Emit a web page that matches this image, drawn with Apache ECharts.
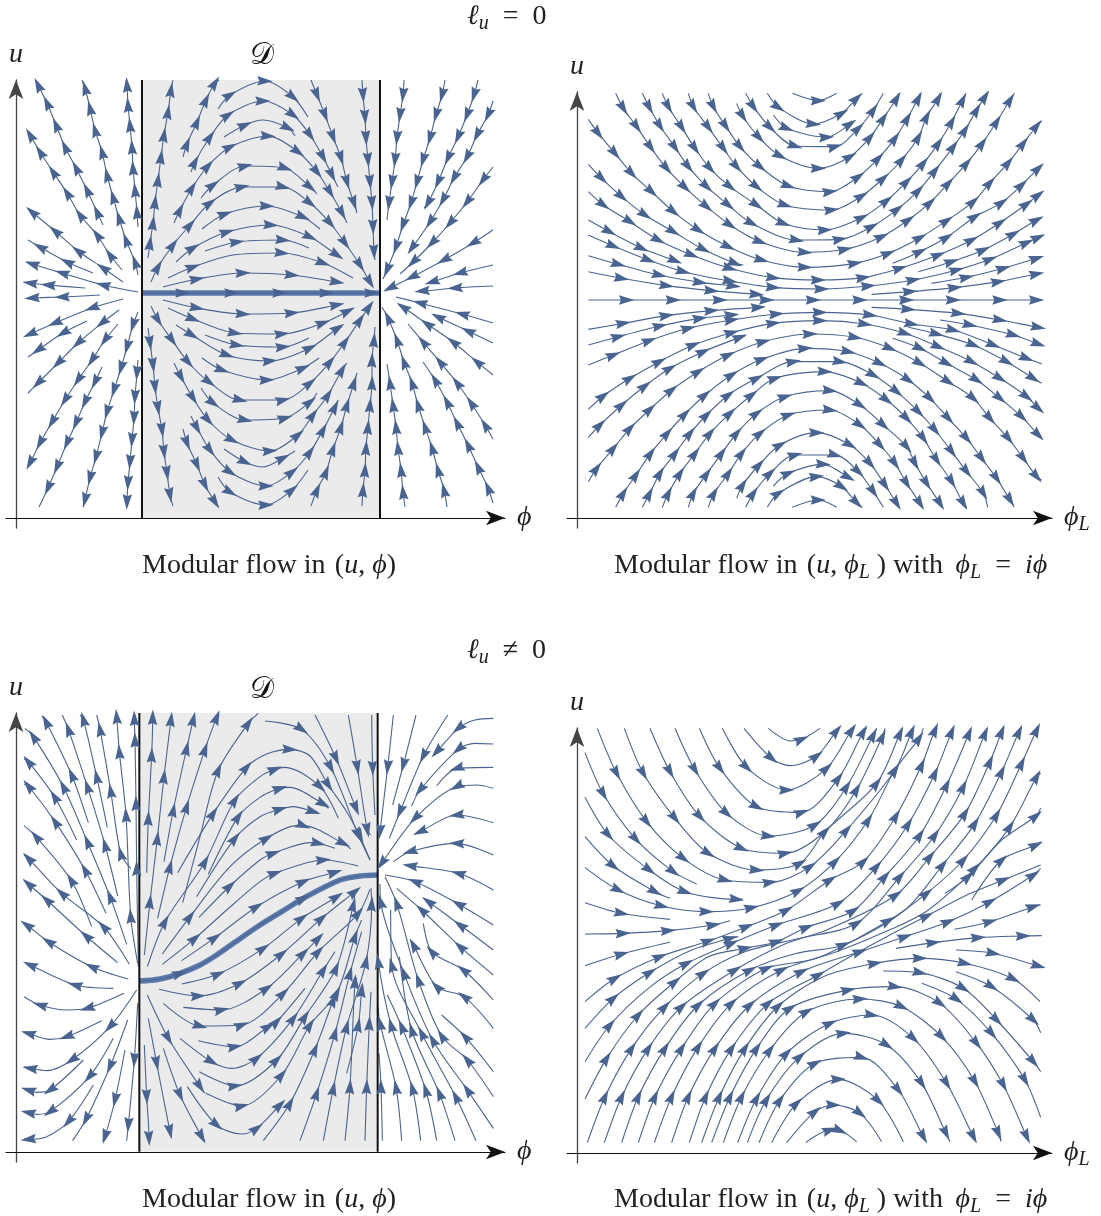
<!DOCTYPE html>
<html><head><meta charset="utf-8"><style>html,body{margin:0;padding:0;background:#fff}#c{width:1101px;height:1216px}</style>
<script src="https://cdn.jsdelivr.net/npm/echarts@6/dist/echarts.min.js"></script></head><body><div id="c"></div><script>
// Streamlines: point list in flow direction; interior points carry an arrow, third value 0 = no arrow.
const streamsA=[
[[138,275],[135,262],[126,240],[119,218],[113,197],[107,175],[102,152],[95,130],[90,108],[85,88],[82,80]],
[[138,227],[137,212],[135,190],[133,168],[132,147],[130,125],[128,105],[127,85],[126,80]],
[[103,225],[97,212],[87,190],[76,168],[65,147],[56,125],[47,103],[38,85],[36,80]],
[[122,270],[110,255],[97,235],[80,215],[67,193],[53,172],[40,152],[30,135],[28,132]],
[[123,282],[103,268],[78,251],[55,231],[32,212],[28,208]],
[[93,273],[67,262],[40,247],[28,240]],
[[138,292],[103,285],[62,273],[32,264],[28,262]],
[[85,288],[48,285],[30,283],[27,282]],
[[100,295],[62,297],[32,298],[27,299]],
[[123,299],[92,308],[55,323],[30,334],[28,335]],
[[87,321],[63,333],[38,350],[28,357]],
[[119,310],[102,323],[78,343],[58,363],[38,383],[28,393]],
[[118,324],[105,340],[92,360],[78,380],[65,400],[52,422],[40,443],[30,463],[28,466]],
[[138,312],[133,325],[127,347],[121,368],[114,390],[107,412],[102,433],[96,457],[90,478],[85,500],[83,507]],
[[102,367],[95,382],[85,402],[76,423],[67,443],[57,467],[48,488],[39,507]],
[[138,360],[137,373],[135,397],[134,418],[132,440],[130,462],[128,483],[127,502],[127,507]],
[[148,258],[150,243],[153,223],[155,202],[158,180],[161,157],[164,135],[168,112],[171,90],[173,80]],
[[183,157],[187,144],[197,122],[206,100],[215,83],[219,80]],
[[174,223],[180,210],[192,188],[208,166],[230,147],[268,136],[298,152],[317,172],[330,192],[342,213],[347,223]],
[[218,109],[230,95],[265,81],[293,97],[308,117]],
[[191,172],[195,162],[210,137],[228,115],[263,101],[293,115],[310,135],[323,157],[332,175],[338,187]],
[[224,137],[245,125],[263,120,0],[288,128],[295,136]],
[[201,198],[213,185],[245,166],[285,168],[310,187],[317,194]],
[[151,282],[158,267],[173,245],[190,225],[210,203],[242,187],[283,187],[310,203],[330,223],[345,243],[360,265],[370,282],[372,285]],
[[202,229],[225,214],[267,206],[303,217],[320,229]],
[[176,262],[193,248],[227,232],[271,225],[310,237],[337,255],[342,258]],
[[205,251],[237,242],[283,240],[309,248]],
[[168,278],[193,267],[233,255,0],[282,253],[323,263],[353,278]],
[[163,287],[197,279],[243,273],[292,275],[337,282],[341,283]],
[[311,80],[317,95],[325,115],[333,137],[341,158],[347,182],[354,203],[357,213]],
[[362,80],[363,95],[365,117],[366,138],[368,160],[370,182],[372,203],[373,227],[374,252],[375,260]],
[[148,328],[150,343],[153,365],[155,387],[158,408],[162,430],[164,452],[167,473],[170,495],[173,506]],
[[183,429],[187,443],[197,465],[205,485],[215,502],[219,507]],
[[151,306],[158,320],[172,340],[188,362],[209,382],[240,400],[283,400],[310,383],[330,362],[345,342],[360,320],[369,307],[372,303]],
[[174,363],[181,377],[193,398],[208,420],[232,440],[270,451],[298,435],[313,415],[328,395],[342,370],[347,363]],
[[191,416],[197,428],[210,450],[230,472],[266,486],[292,472],[310,452],[323,430],[335,407],[338,400]],
[[218,477],[230,492],[266,505],[292,490],[308,470]],
[[224,449],[245,462],[263,467,0],[283,458],[295,451]],
[[201,388],[213,403],[245,420],[285,418],[310,402],[317,393]],
[[202,358],[222,370],[267,380],[303,368],[319,358]],
[[176,325],[192,335],[227,355],[270,361],[310,348],[338,328],[342,327]],
[[205,335],[237,345],[283,347],[309,338]],
[[168,308],[193,319],[235,333],[282,334],[323,323],[348,311],[353,308]],
[[163,300],[197,308],[243,314],[292,313],[337,305],[341,304]],
[[311,506],[317,490],[326,472],[333,449],[341,427],[347,405],[354,383],[357,373]],
[[362,506],[363,490],[365,470],[366,448],[368,427],[370,405],[372,383],[372,360],[374,340],[375,327]],
[[404,80],[403,95],[400,115],[397,138],[395,160],[392,182],[389,203],[387,220]],
[[445,80],[442,95],[436,115],[430,138],[423,160],[417,182],[411,203],[403,225],[396,247],[387,270],[383,279]],
[[478,80],[474,95],[467,115],[458,137],[448,158],[438,182],[428,203],[424,208]],
[[493,101],[488,115],[477,135],[467,157],[454,178],[443,200],[430,222],[412,248],[410,250]],
[[493,167],[483,180],[467,202],[450,223],[432,243],[413,262],[400,274]],
[[493,230],[473,243],[444,260],[412,277],[390,288],[385,291]],
[[493,265],[460,273],[432,282],[428,283]],
[[493,286],[455,288],[422,291],[418,291]],
[[493,323],[462,314],[420,303],[396,297]],
[[493,343],[468,331],[438,317],[434,314]],
[[493,375],[477,362],[453,342],[427,324],[403,307],[399,305]],
[[493,439],[485,425],[471,403],[457,383],[440,362],[423,342],[408,324]],
[[493,503],[488,488],[478,467],[468,445],[457,423],[447,402],[435,380],[423,362]],
[[447,507],[444,490],[438,470],[432,448],[425,427],[418,405],[412,383],[404,362],[397,340],[388,318],[382,307]],
[[405,507],[403,492],[401,470],[398,448],[396,427],[393,405],[390,383],[387,364]]
];
const thickA=[[142,293],[183,293],[232,293],[280,293],[327,293],[372,293],[380,293]];
const streamsB=[
[[85,750],[200,750],[340,750],[480,750],[620,750],[760,750],[900,750],[1040,750],[1180,750],[1320,750],[1430,750],[1445,750]],
[[697,130],[775,152],[830,130]],
[[622,130],[655,172],[760,222],[845,190],[890,145],[907,130]],
[[640,195],[680,235],[800,262],[870,222],[875,212]],
[[557,130],[580,170],[630,232],[705,288],[825,290],[895,235],[940,180],[970,130]],
[[530,160],[548,198],[597,262],[660,318],[775,355],[870,320],[930,262],[970,205],[1010,145],[1015,130]],
[[445,130],[460,170],[497,228],[540,290],[600,350],[685,408],[810,425],[895,380],[955,325],[1005,265],[1042,205],[1075,145],[1080,130]],
[[385,130],[400,170],[445,232],[490,295],[530,350],[590,410],[675,465],[815,480],[905,438],[970,385],[1025,330],[1075,262],[1100,200],[1135,145],[1140,130]],
[[307,130],[325,170],[365,232],[405,295],[450,355],[510,410],[590,465],[670,520],[795,540],[905,503],[980,452],[1040,395],[1090,340],[1135,280],[1175,215],[1208,150],[1218,130]],
[[247,130],[268,172],[300,228],[345,292],[385,350],[440,410],[505,465],[575,520],[710,570],[840,568],[935,530],[1012,478],[1075,422],[1125,362],[1180,290],[1215,240],[1250,180],[1275,140],[1283,130]],
[[167,130],[190,175],[230,230],[272,292],[320,355],[375,412],[440,470],[510,525],[600,575],[735,607],[855,598],[965,560],[1045,510],[1110,458],[1165,400],[1220,340],[1267,280],[1310,215],[1350,150],[1363,130]],
[[85,208],[115,250],[165,310],[215,370],[275,425],[340,485],[415,540],[505,590],[605,630],[735,652],[885,640],[985,610],[1080,563],[1160,512],[1240,455],[1290,398],[1345,338],[1390,280],[1430,228],[1445,213]],
[[85,343],[125,385],[185,440],[255,495],[340,545],[430,598],[525,640],[550,645]],
[[85,425],[130,465],[210,515],[295,570],[395,615],[510,655],[640,683],[775,690],[910,683],[1020,655],[1135,615],[1235,570],[1320,518],[1400,462],[1435,435],[1445,428]],
[[85,510],[148,545],[245,595],[345,632],[350,635]],
[[85,555],[160,588],[265,630],[370,665],[510,693],[640,712],[785,717],[925,708],[1060,690],[1190,660],[1290,628],[1400,578],[1435,562],[1445,558]],
[[85,617],[175,643],[298,675],[420,697],[520,708],[535,710]],
[[85,665],[185,685],[320,707],[455,722],[590,733],[605,735]],
[[998,640],[1080,605],[1160,562],[1245,500],[1325,458],[1385,405],[1435,355],[1445,347]],
[[1075,665],[1175,635],[1270,600],[1360,552],[1430,510],[1445,505]],
[[1115,700],[1220,682],[1330,655],[1430,625],[1445,620]],
[[935,733],[1050,725],[1185,713],[1315,695],[1430,672],[1445,670]],
[[85,838],[190,820],[320,797],[455,782],[595,772],[610,770]],
[[85,885],[175,860],[300,828],[420,805],[515,795],[530,793]],
[[85,945],[160,915],[268,872],[385,835],[515,810],[650,792],[780,787],[930,795],[1055,822],[1180,840],[1300,885],[1400,925],[1445,942]],
[[85,1078],[130,1038],[210,985],[298,935],[400,885],[515,848],[640,820],[780,812],[915,822],[1035,850],[1135,890],[1235,935],[1320,985],[1400,1040],[1435,1075],[1445,1080]],
[[85,1162],[120,1125],[185,1065],[255,1008],[330,955],[430,905],[540,862],[555,858]],
[[85,1295],[110,1255],[160,1195],[210,1135],[270,1078],[335,1020],[415,965],[505,915],[610,875],[750,852],[885,862],[990,895],[1080,940],[1165,995],[1240,1045],[1290,1105],[1345,1165],[1390,1225],[1430,1280],[1445,1290]],
[[167,1372],[190,1330],[228,1275],[272,1210],[322,1150],[375,1092],[435,1035],[515,975],[605,928],[735,895],[865,905],[960,940],[1045,990],[1110,1045],[1165,1105],[1220,1165],[1265,1225],[1310,1285],[1350,1350],[1363,1372]],
[[247,1372],[268,1332],[300,1270],[345,1210],[390,1150],[440,1095],[505,1035],[590,985],[700,935],[840,935],[940,975],[1010,1025],[1075,1085],[1125,1140],[1175,1205],[1220,1265],[1270,1330],[1283,1372]],
[[307,1372],[325,1330],[360,1270],[405,1210],[450,1150],[510,1090],[575,1035],[645,985],[795,965],[905,1000],[980,1050],[1040,1105],[1090,1165],[1130,1230],[1175,1295],[1210,1360],[1220,1372]],
[[385,1372],[400,1330],[440,1272],[485,1210],[530,1150],[590,1090],[675,1040],[810,1022],[900,1065],[970,1125],[1040,1190],[1065,1240],[1100,1300],[1140,1360],[1145,1372]],
[[445,1372],[462,1330],[505,1270],[545,1210],[600,1150],[685,1095],[810,1080],[900,1125],[960,1185],[1005,1240],[1040,1300],[1080,1360],[1085,1372]],
[[530,1345],[548,1305],[597,1245],[660,1185],[770,1148],[870,1185],[930,1240],[975,1305],[1010,1360],[1017,1372]],
[[557,1372],[580,1330],[630,1270],[705,1215],[825,1215],[895,1265],[940,1325],[970,1372]],
[[622,1372],[655,1330],[770,1280],[845,1310],[890,1358],[907,1372]],
[[640,1308],[685,1270],[790,1243],[865,1282],[875,1290]],
[[697,1372],[775,1350],[830,1372]],
[[998,865],[1080,895],[1160,940],[1250,990],[1320,1045],[1385,1100],[1435,1155],[1445,1162]],
[[1045,832],[1130,852],[1240,885],[1340,935],[1420,985],[1445,1000]],
[[1140,810],[1230,825],[1360,855],[1435,882],[1445,885]],
[[935,772],[1045,778],[1195,790],[1320,810],[1435,832],[1445,833]]
];
const streamsC=[
[[415,860],[410,565],[408,370],[405,180],[403,115],[403,105]],
[[413,850],[392,708],[378,405],[358,215],[350,110],[348,105]],
[[392,565],[362,520],[332,332],[300,148],[290,105]],
[[322,443],[290,290],[250,118],[240,105]],
[[353,648],[315,495],[262,320],[205,148],[187,105]],
[[265,428],[215,285],[138,125],[125,108]],
[[380,793],[330,650],[262,485],[190,320],[100,170],[75,145]],
[[230,480],[163,350],[85,245],[72,237]],
[[318,700],[255,570],[165,425],[85,318],[72,312]],
[[275,740],[213,600],[108,470],[72,437]],
[[388,853],[310,740],[185,640],[85,535],[72,525]],
[[353,848],[258,768],[140,660],[85,612],[72,600]],
[[385,897],[275,860],[145,785],[80,735],[72,733]],
[[340,925],[225,915],[90,855],[78,850]],
[[372,940],[262,985],[200,990,0],[120,975],[72,950]],
[[305,1022],[200,1070],[150,1078,0],[85,1060],[72,1055]],
[[410,930],[330,1040],[215,1140],[140,1172,0],[90,1165],[72,1160]],
[[250,1140],[150,1230],[110,1237,0],[85,1230],[72,1225]],
[[340,1075],[268,1190],[150,1295],[110,1303,0],[85,1298],[72,1295]],
[[280,1215],[205,1325],[140,1370,0],[85,1378],[72,1377]],
[[383,1020],[330,1160],[258,1318],[218,1382]],
[[375,1110],[345,1260],[315,1370],[308,1382]],
[[413,970],[403,1140],[385,1335],[380,1382]],
[[433,825],[450,665],[472,475],[492,290],[513,118],[515,105]],
[[440,578],[445,415],[455,225],[458,112],[458,105]],
[[492,545],[520,390],[560,205],[580,118],[583,105]],
[[473,715],[510,560],[560,380],[615,208],[650,112],[657,105]],
[[548,668],[600,470,0],[655,270],[745,130],[775,100]],
[[533,578],[640,400],[740,262],[800,222,0],[870,208],[930,228,0],[985,315],[1040,395,0],[1080,470],[1110,540]],
[[442,860],[495,725],[615,545],[705,360],[780,290,0],[825,268],[855,262,0],[960,320],[1015,415]],
[[625,583],[715,410],[780,352,0],[840,325],[870,322,0],[970,372],[985,385]],
[[590,650],[705,475],[780,410,0],[840,388],[880,380,0],[940,395],[955,402]],
[[487,822],[570,710],[690,560,0],[800,475],[890,437,0],[910,437],[1030,490],[1052,507]],
[[597,712],[690,618],[780,540,0],[820,520],[930,488,0],[955,490],[1005,505]],
[[487,853],[585,775],[680,690,0],[780,605,0],[825,580],[970,540],[1075,558]],
[[545,842],[645,773],[770,680],[910,605],[1005,577],[1008,575]],
[[795,123],[905,148],[992,262],[1075,465],[1110,540]],
[[945,105],[1008,235],[1068,385],[1072,395]],
[[1045,105],[1072,262],[1102,450],[1112,465]],
[[1115,105],[1118,265],[1125,405]],
[[545,912],[655,882],[790,805],[905,715],[1010,650],[1012,645]],
[[477,928],[595,948],[720,910],[845,822],[965,715],[1065,635],[1068,632]],
[[550,982],[665,990],[800,925],[910,820],[955,775],[958,770]],
[[490,970],[600,1038],[725,1035],[850,940],[955,815],[1075,700],[1110,628]],
[[595,1082],[705,1100],[805,1040],[830,1025],[915,925]],
[[540,1075],[635,1145],[695,1165,0],[770,1135],[880,1015],[970,870],[1005,815]],
[[598,1175],[705,1218],[830,1140],[915,1010],[1008,865],[1060,675],[1065,632]],
[[618,1240],[725,1278],[845,1185],[930,1035],[1010,940],[1065,770],[1085,720]],
[[790,1382],[870,1270],[945,1108],[1000,960],[1015,925]],
[[562,1220],[650,1335],[725,1362,0],[770,1345],[840,1275],[845,1270]],
[[900,1382],[950,1240],[1005,1060],[1050,880],[1085,755]],
[[970,1382],[1000,1225],[1040,1040],[1098,845],[1115,672],[1113,625]],
[[1035,1382],[1050,1220],[1065,905],[1072,895]],
[[1040,1180],[1075,1035],[1085,930],[1088,920]],
[[1095,1382],[1100,1220],[1108,1030],[1113,935]],
[[445,1015],[470,1150],[510,1355],[515,1372]],
[[433,1095],[440,1250],[447,1375],[447,1382]],
[[442,945],[505,1075],[600,1220],[615,1240]],
[[490,1105],[540,1245],[605,1370],[615,1382]],
[[1180,105],[1163,262],[1140,455],[1138,470]],
[[1248,105],[1210,255],[1178,375]],
[[1343,105],[1270,228],[1200,395],[1168,475]],
[[1480,115],[1425,120,0],[1375,145],[1310,215],[1302,225]],
[[1480,192],[1425,190,0],[1375,208],[1260,330],[1235,378]],
[[1480,262],[1370,265],[1310,318]],
[[1480,325],[1430,315,0],[1370,320],[1245,415],[1145,550],[1142,558]],
[[1480,428],[1370,405],[1260,455],[1245,462]],
[[1480,525],[1370,490],[1230,515],[1180,545]],
[[1480,630],[1375,580],[1230,557],[1220,555]],
[[1480,735],[1375,672],[1245,605],[1155,585]],
[[1480,810],[1380,735],[1285,665],[1270,655]],
[[1480,885],[1380,800],[1265,690],[1190,625]],
[[1480,960],[1390,870],[1295,815],[1270,730]],
[[1480,1045],[1392,950],[1310,920],[1240,795],[1235,785]],
[[1480,1175],[1395,1070],[1325,1005]],
[[1480,1250],[1402,1140],[1325,1068],[1255,900],[1190,670],[1155,590]],
[[1480,1345],[1402,1230],[1298,1080],[1212,880],[1142,665],[1140,612]],
[[1428,1382],[1367,1250],[1265,1060],[1175,855],[1172,690]],
[[1365,1382],[1318,1240],[1235,1050],[1198,830]],
[[1310,1382],[1277,1230],[1205,1040],[1162,945]],
[[1262,1382],[1237,1225],[1173,1035],[1135,845],[1132,770]],
[[1205,1382],[1188,1222],[1140,1030],[1134,980]],
[[1147,1382],[1143,1220],[1137,1120]]
];
const thickC=[[420,903],[480,897,0],[540,880],[600,855,0],[650,825,0],[700,790,0],[780,735,0],[850,692,0],[910,655],[1020,600,0],[1080,588,0],[1132,585]];
const streamsD=[
[[625,145],[690,183,0],[725,178],[780,145]],
[[552,145],[635,235],[690,257,0],[770,228],[830,152],[838,145]],
[[487,145],[560,262],[680,330],[800,265],[875,150],[883,145]],
[[418,145],[480,265],[590,380],[725,397],[835,295],[910,155],[920,145]],
[[345,145],[405,270],[500,400],[625,468],[765,435],[860,320],[940,165],[950,145]],
[[270,145],[330,275],[420,410],[545,505],[675,520],[800,450,0],[890,328],[967,170],[975,145]],
[[193,145],[250,280],[345,415],[445,520],[590,570],[720,550],[795,455],[950,310],[1020,160],[1025,145]],
[[112,145],[170,280],[260,425],[370,535],[495,600],[630,607],[750,560],[860,450],[1005,270],[1055,155],[1060,145]],
[[75,218],[130,342],[228,478],[340,575],[410,612]],
[[75,352],[145,465],[268,570],[375,635],[530,658],[548,657]],
[[75,470],[160,558],[285,635],[330,655]],
[[75,563],[175,630],[305,678],[440,695],[575,683],[715,632],[825,545],[925,420],[1005,270],[1077,175],[1090,145]],
[[75,668],[185,700],[330,718]],
[[75,762],[190,760],[325,752],[460,735],[510,722]],
[[75,857],[185,822],[330,787]],
[[75,965],[165,895],[300,830],[445,783],[560,740],[680,690],[810,600],[910,545],[1008,408],[1085,255],[1125,150],[1132,145]],
[[75,1045],[160,955],[270,877],[390,812,0],[510,775],[535,770]],
[[75,1145],[150,1035],[265,925,0],[380,850],[515,790],[650,735],[835,670],[950,560],[1045,432],[1125,280],[1175,155],[1182,145]],
[[75,1257],[140,1135],[235,1005],[345,905],[445,830,0],[555,805],[650,785],[740,742],[880,692],[975,590],[1080,465],[1160,315],[1227,160],[1232,145]],
[[82,1388],[135,1250],[215,1105],[315,980],[430,880],[555,815,0],[720,775,0],[890,730],[1020,590],[1125,465],[1210,320],[1275,160],[1282,145]],
[[133,1388],[185,1250],[265,1105],[365,980],[525,870],[680,790,0],[800,750,0],[1008,645],[1110,530],[1215,400],[1290,245],[1325,155],[1332,145]],
[[185,1388],[235,1250],[315,1105],[415,975],[570,870],[710,820,0],[850,795],[1035,690,0],[1148,555],[1245,430],[1325,275],[1377,155],[1385,145]],
[[235,1388],[285,1250],[365,1105],[465,970],[620,865],[770,835,0],[985,722],[1100,640],[1210,540],[1310,405],[1385,250],[1430,150],[1436,145]],
[[283,1388],[335,1250],[415,1100],[515,970],[665,870],[830,815,0],[1000,745,0],[1105,690,0],[1245,565],[1350,440],[1430,290],[1442,280]],
[[335,1388],[385,1250],[465,1105],[570,975],[725,875],[900,815],[1035,770],[1165,725],[1290,665],[1420,585],[1442,565]],
[[388,1388],[437,1250],[515,1105],[625,970],[775,885],[870,830,0],[980,770,0],[1100,708],[1210,650,0],[1330,600],[1442,555]],
[[1155,640],[1225,590],[1325,480,0],[1428,408],[1442,385]],
[[1235,660],[1325,540],[1428,495],[1442,485]],
[[1183,748],[1290,725],[1420,680],[1442,675]],
[[1008,805],[1120,788],[1255,773],[1390,768],[1445,767]],
[[1188,810],[1300,820],[1435,858],[1445,860]],
[[737,1388],[810,1350],[840,1352],[890,1385]],
[[680,1388],[765,1295],[820,1275],[900,1300],[965,1385]],
[[635,1388],[710,1270],[835,1198],[955,1262],[1030,1385]],
[[597,1388],[660,1260],[765,1150],[905,1132],[1015,1230],[1090,1370],[1100,1385]],
[[562,1388],[620,1258],[720,1130],[850,1060],[980,1095],[1085,1210],[1158,1360],[1170,1385]],
[[533,1388],[590,1255],[680,1120],[810,1030],[935,1005],[1060,1075],[1160,1210],[1240,1370],[1248,1385]],
[[490,1388],[545,1250],[630,1110],[740,995],[900,957],[1025,980],[1145,1070],[1245,1205],[1315,1360],[1323,1385]],
[[455,1388],[510,1250],[590,1105],[690,985],[865,930],[1005,920],[1140,970],[1250,1090],[1330,1215],[1400,1370],[1407,1385]],
[[425,1388],[478,1250],[555,1105],[655,978],[790,890,0],[945,850],[1080,835],[1215,850],[1360,897],[1440,965]],
[[970,873],[1080,878],[1210,925],[1310,1020],[1420,1145],[1442,1175]],
[[1085,910],[1190,958],[1295,1060],[1395,1200],[1442,1312]],
[[1188,875],[1295,920],[1420,1020],[1442,1058]]
];
const flowColor='#4a6491', thickColor='#5b78ab';
const panels=[
 {streams:streamsA,thick:thickA,edges:[142,380],span:[80,518],grid:[6,80,499,448],x:[6,505],y:[80,528],name:'ϕ'},
 {streams:streamsB,grid:[567,92,485,436],x:[21,1476],y:[126,1434],name:'L'},
 {streams:streamsC,thick:thickC,edges:[418,1133],span:[99,1415],grid:[6,713,499,449],x:[18,1515],y:[99,1446],name:'ϕ'},
 {streams:streamsD,grid:[567,728,485,435],x:[21,1476],y:[144,1449],name:'L'}
];
const font='"Liberation Serif",serif';
const rich={i:{fontFamily:font,fontStyle:'italic',fontSize:28,color:'#222'},
 n:{fontFamily:font,fontSize:28,color:'#222'},
 d:{fontFamily:font,fontSize:30,color:'#111'},
 s:{fontFamily:font,fontStyle:'italic',fontSize:20,color:'#222',verticalAlign:'bottom',lineHeight:34,padding:[8,0,0,0]}};
const grids=[],xAxes=[],yAxes=[],series=[];
panels.forEach((p,k)=>{
 grids.push({left:p.grid[0],top:p.grid[1],width:p.grid[2],height:p.grid[3]});
 const line={onZero:false,symbol:['none','arrow'],symbolSize:[11,19],lineStyle:{color:'#111',width:1.1}};
 xAxes.push({gridIndex:k,type:'value',min:p.x[0],max:p.x[1],offset:-10,position:'bottom',axisLine:line,axisTick:{show:false},axisLabel:{show:false},splitLine:{show:false},
  name:p.name==='L'?'{i|ϕ}{s|L}':'{i|ϕ}',nameLocation:'end',nameGap:12,nameTextStyle:{rich,fontSize:28,fontFamily:font}});
 yAxes.push({gridIndex:k,type:'value',inverse:true,min:p.y[0],max:p.y[1],offset:-10,position:'left',axisLine:{...line,symbol:['none','arrow'],lineStyle:{color:'#444',width:1.3}},axisTick:{show:false},axisLabel:{show:false},splitLine:{show:false},
  name:'{i|u}',nameLocation:'start',nameGap:11,nameTextStyle:{rich,fontSize:28,fontFamily:font}});
 const base={type:'line',xAxisIndex:k,yAxisIndex:k,silent:true,animation:false,showSymbol:false,symbol:'none'};
 if(p.edges){
  series.push({...base,z:1,data:[],markArea:{silent:true,itemStyle:{color:'#ebebeb'},data:[[{xAxis:p.edges[0],yAxis:p.span[0]},{xAxis:p.edges[1],yAxis:p.span[1]}]]}});
  series.push({...base,z:3,data:p.thick.map(q=>[q[0],q[1]]),smooth:0.35,lineStyle:{color:thickColor,width:5.5}});
  p.edges.forEach(e=>series.push({...base,z:7,data:[[e,p.span[0]],[e,p.span[1]]],lineStyle:{color:'#111',width:2}}));
 }
 const arrows=[];
 const all=p.thick?p.streams.concat([p.thick]):p.streams;
 all.forEach(s=>{
  series.push({...base,z:4,data:s.map(q=>[q[0],q[1]]),smooth:0.3,lineStyle:{color:flowColor,width:1.1}});
  s.forEach((q,i)=>{
   if(i===0||i===s.length-1||q[2]===0)return;
   const dx=s[i+1][0]-s[i-1][0],dy=s[i+1][1]-s[i-1][1];
   arrows.push({value:[q[0],q[1]],symbolRotate:Math.atan2(-dx,-dy)*180/Math.PI});
  });
 });
 series.push({type:'scatter',xAxisIndex:k,yAxisIndex:k,silent:true,animation:false,z:8,symbol:'path://M0,-10 L4.4,5 L0,3 L-4.4,5 Z',symbolSize:[9.5,15.5],itemStyle:{color:flowColor,opacity:1},data:arrows});
});
const t=(text,left,top)=>({text,left,top,textStyle:{rich,fontFamily:font,fontSize:28,fontWeight:'normal',color:'#222'},padding:0});
const capLeft='{n|Modular flow in \u200a}{n|(}{i|u}{n|, }{i|ϕ}{n|)}';
const capRight='{n|Modular flow in \u200a}{n|(}{i|u}{n|, }{i|ϕ}{s|L}{n| ) with \u2009}{i|ϕ}{s|L}{n|  =  }{i|iϕ}';
const title=[
 t('{i|ℓ}{s|u}{n|  =  0}',467,0),t(capLeft,142,552),t(capRight,614,549),
 t('{i|ℓ}{s|u}{n|  ≠  0}',467,634),t(capLeft,142,1186),t(capRight,614,1183),
 t('{d|𝒟}',250,41),t('{d|𝒟}',250,675)
];
const chart=echarts.init(document.getElementById('c'),null,{renderer:'canvas'});
chart.setOption({animation:false,backgroundColor:'#fff',title,grid:grids,xAxis:xAxes,yAxis:yAxes,series});
</script></body></html>
